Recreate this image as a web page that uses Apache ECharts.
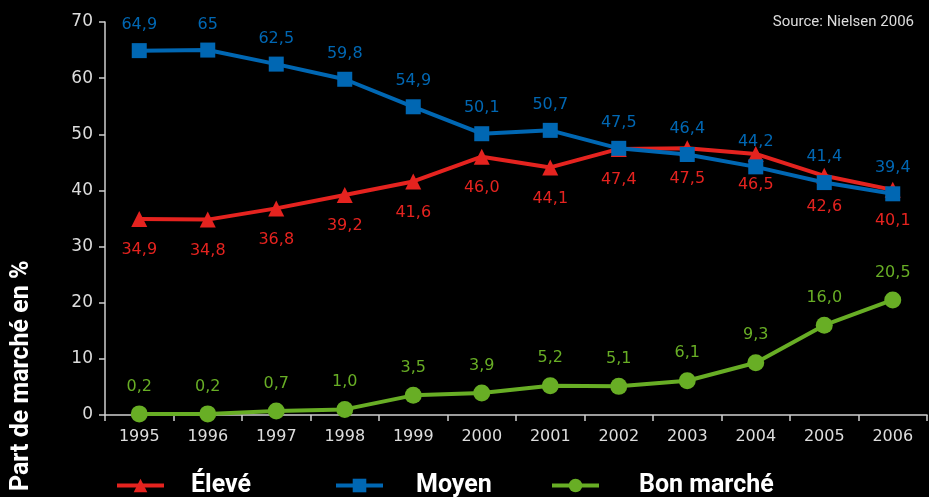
<!DOCTYPE html>
<html>
<head>
<meta charset="utf-8">
<style>
  html, body { margin: 0; padding: 0; background: #000; }
  #chart { width: 929px; height: 497px; }
</style>
<script src="https://cdn.jsdelivr.net/npm/echarts@6/dist/echarts.min.js"></script>
</head>
<body>
<div id="chart"></div>
<script>
// Market share by price segment, 1995-2006 (percent)
const years = ['1995', '1996', '1997', '1998', '1999', '2000', '2001', '2002', '2003', '2004', '2005', '2006'];
const eleve = ['34.9', '34.8', '36.8', '39.2', '41.6', '46.0', '44.1', '47.4', '47.5', '46.5', '42.6', '40.1'];
const moyen = ['64.9', '65', '62.5', '59.8', '54.9', '50.1', '50.7', '47.5', '46.4', '44.2', '41.4', '39.4'];
const bonMarche = ['0.2', '0.2', '0.7', '1.0', '3.5', '3.9', '5.2', '5.1', '6.1', '9.3', '16.0', '20.5'];
const yTicks = [0, 10, 20, 30, 40, 50, 60, 70];

const RED = '#e5231f';
const BLUE = '#0067b3';
const GREEN = '#68ae25';
const numFont = '"DejaVu Sans", sans-serif';
const boldFont = '"Liberation Sans Narrow", "Roboto", sans-serif';

// label text keeps the decimal comma and the written precision of each value
const fmt = p => String(p.data).replace('.', ',');

function lineSeries(name, data, color, symbol, size, labelPos, labelDist) {
  return {
    name, type: 'line', data,
    symbol, symbolSize: size,
    lineStyle: { color, width: 4 },
    itemStyle: { color },
    label: {
      show: true, position: labelPos, distance: labelDist,
      color, fontFamily: numFont, fontSize: 16, formatter: fmt
    },
    z: name === 'Moyen' ? 3 : 2
  };
}

function legendAt(name, left, gap) {
  return {
    data: [name], left, bottom: -6, itemWidth: 47, itemHeight: 17,
    lineStyle: { width: 4 },
    textStyle: { color: '#fff', fontFamily: boldFont, fontWeight: 'bold', fontSize: 25, padding: [0, 0, 0, gap] },
    selectedMode: false
  };
}

const chart = echarts.init(document.getElementById('chart'), null, { renderer: 'canvas' });
chart.setOption({
  backgroundColor: '#000',
  animation: false,
  title: {
    text: 'Source: Nielsen 2006', right: 10, top: 10,
    textStyle: { color: '#ddd', fontFamily: boldFont, fontWeight: 'normal', fontSize: 15 }
  },
  legend: [legendAt('Élevé', 110, 22), legendAt('Moyen', 329, 28), legendAt('Bon marché', 545, 35)],
  graphic: [{
    type: 'text', x: 9, y: 491, rotation: Math.PI / 2,
    style: { text: 'Part de marché en %', fill: '#fff', font: 'bold 25px ' + boldFont, textAlign: 'left', textBaseline: 'top' }
  }],
  grid: { left: 105, right: 2, top: 22, bottom: 82 },
  xAxis: {
    type: 'category', data: years, boundaryGap: true,
    axisLine: { lineStyle: { color: '#cfcfcf', width: 1.5 } },
    axisTick: { show: true, length: 6, alignWithLabel: false, lineStyle: { color: '#cfcfcf', width: 1.5 } },
    axisLabel: { color: '#ddd', fontFamily: numFont, fontSize: 16, margin: 14 }
  },
  yAxis: {
    type: 'value', min: yTicks[0], max: yTicks[yTicks.length - 1], interval: 10,
    splitLine: { show: false },
    axisLine: { show: true, lineStyle: { color: '#cfcfcf', width: 1.5 } },
    axisTick: { show: true, length: 6, lineStyle: { color: '#cfcfcf', width: 1.5 } },
    axisLabel: { color: '#ddd', fontFamily: numFont, fontSize: 17, margin: 12 }
  },
  series: [
    lineSeries('Élevé', eleve, RED, 'triangle', 16, 'bottom', 15),
    lineSeries('Moyen', moyen, BLUE, 'rect', 15, 'top', 10),
    lineSeries('Bon marché', bonMarche, GREEN, 'circle', 17, 'top', 11)
  ]
});
</script>
</body>
</html>
